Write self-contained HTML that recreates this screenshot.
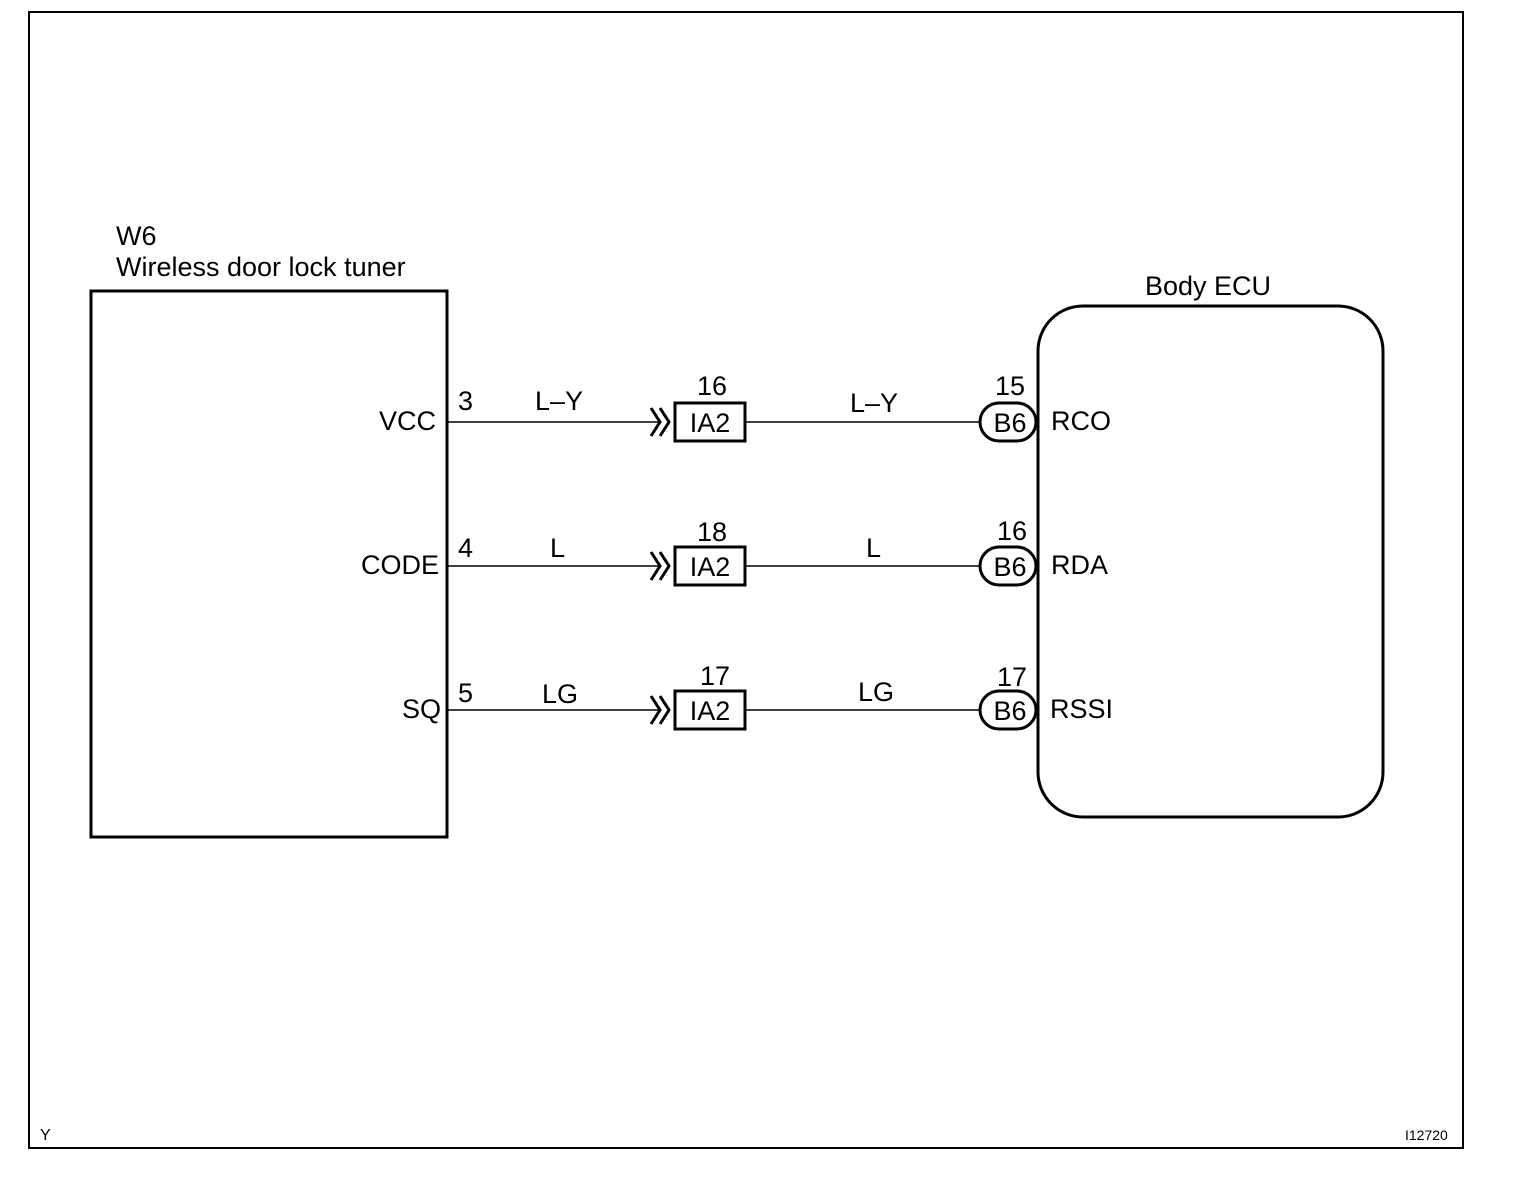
<!DOCTYPE html>
<html><head><style>body{margin:0;background:#fff}</style></head><body>
<svg width="1520" height="1188" xmlns="http://www.w3.org/2000/svg" font-family="Liberation Sans, Arial, sans-serif" fill="#000">
<rect x="29" y="12" width="1434" height="1136" fill="none" stroke="#000" stroke-width="2"/>
<text x="116" y="245" font-size="27">W6</text>
<text x="116" y="276" font-size="27">Wireless door lock tuner</text>
<rect x="91" y="291" width="356" height="546" fill="none" stroke="#000" stroke-width="3"/>
<text x="1145" y="295" font-size="27">Body ECU</text>
<rect x="1038" y="306" width="345" height="511" rx="45" fill="none" stroke="#000" stroke-width="3"/>
<g font-size="27">
<text x="436" y="430" text-anchor="end">VCC</text>
<text x="439" y="574" text-anchor="end">CODE</text>
<text x="441" y="718" text-anchor="end">SQ</text>
<text x="1051" y="430">RCO</text>
<text x="1051" y="574">RDA</text>
<text x="1050" y="718">RSSI</text>
</g>
<g font-size="27">
<line x1="447" y1="422" x2="660" y2="422" stroke="#000" stroke-width="1.5"/>
<line x1="745" y1="422" x2="980" y2="422" stroke="#000" stroke-width="1.5"/>
<path d="M651 408 L660 422 L651 436 M660 408 L669 422 L660 436" stroke="#000" stroke-width="3" fill="none"/>
<rect x="675" y="403" width="70" height="38" fill="none" stroke="#000" stroke-width="3"/>
<text x="710" y="432" text-anchor="middle">IA2</text>
<rect x="980" y="403" width="56" height="38" rx="19" fill="#fff" stroke="#000" stroke-width="3"/>
<text x="1010" y="432" text-anchor="middle">B6</text>
<text x="458" y="410">3</text><text x="535" y="410">L–Y</text>
<text x="712" y="395" text-anchor="middle">16</text>
<text x="850" y="412">L–Y</text>
<text x="1010" y="395" text-anchor="middle">15</text>
<line x1="447" y1="566" x2="660" y2="566" stroke="#000" stroke-width="1.5"/>
<line x1="745" y1="566" x2="980" y2="566" stroke="#000" stroke-width="1.5"/>
<path d="M651 552 L660 566 L651 580 M660 552 L669 566 L660 580" stroke="#000" stroke-width="3" fill="none"/>
<rect x="675" y="547" width="70" height="38" fill="none" stroke="#000" stroke-width="3"/>
<text x="710" y="576" text-anchor="middle">IA2</text>
<rect x="980" y="547" width="56" height="38" rx="19" fill="#fff" stroke="#000" stroke-width="3"/>
<text x="1010" y="576" text-anchor="middle">B6</text>
<text x="458" y="557">4</text><text x="550" y="557">L</text>
<text x="712" y="541" text-anchor="middle">18</text>
<text x="866" y="557">L</text>
<text x="1012" y="540" text-anchor="middle">16</text>
<line x1="447" y1="710" x2="660" y2="710" stroke="#000" stroke-width="1.5"/>
<line x1="745" y1="710" x2="980" y2="710" stroke="#000" stroke-width="1.5"/>
<path d="M651 696 L660 710 L651 724 M660 696 L669 710 L660 724" stroke="#000" stroke-width="3" fill="none"/>
<rect x="675" y="691" width="70" height="38" fill="none" stroke="#000" stroke-width="3"/>
<text x="710" y="720" text-anchor="middle">IA2</text>
<rect x="980" y="691" width="56" height="38" rx="19" fill="#fff" stroke="#000" stroke-width="3"/>
<text x="1010" y="720" text-anchor="middle">B6</text>
<text x="458" y="702">5</text><text x="542" y="703">LG</text>
<text x="715" y="685" text-anchor="middle">17</text>
<text x="858" y="701">LG</text>
<text x="1012" y="686" text-anchor="middle">17</text>
</g>
<text x="40" y="1140" font-size="16">Y</text>
<text x="1405" y="1140" font-size="14">I12720</text>
</svg>
</body></html>
